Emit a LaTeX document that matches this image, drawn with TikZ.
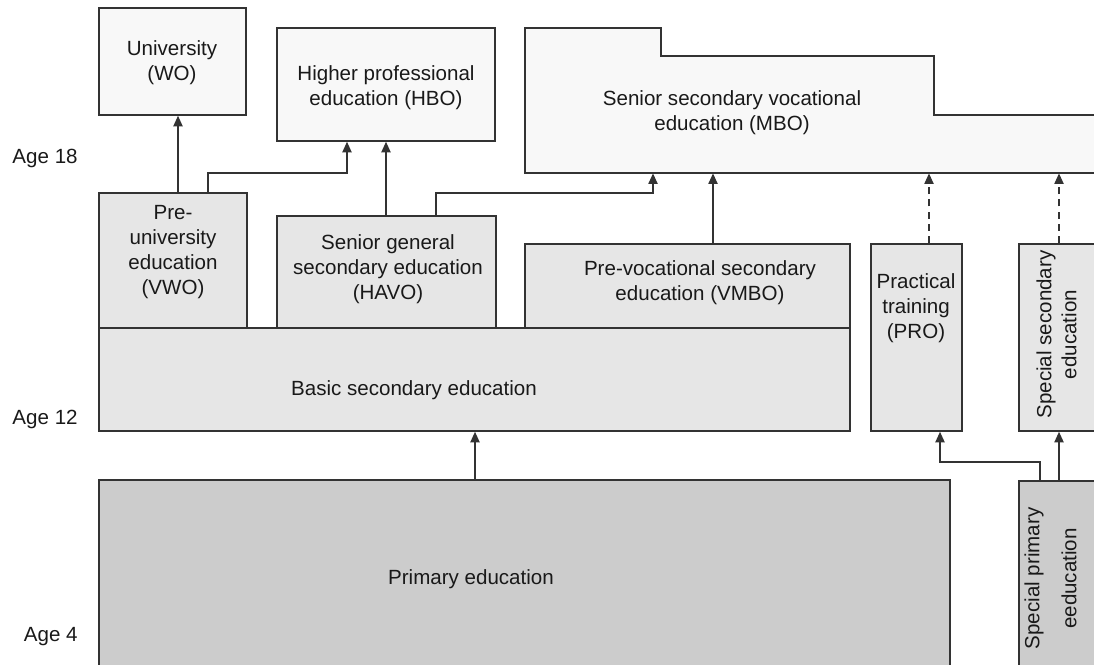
\documentclass[tikz,border=0pt]{standalone}
\usepackage{fontspec}
\setmainfont{Liberation Sans}
\usetikzlibrary{arrows.meta,fit}
\definecolor{linegray}{HTML}{333333}
\definecolor{boxwhite}{HTML}{F8F8F8}
\definecolor{boxlight}{HTML}{E6E6E6}
\definecolor{boxdark}{HTML}{CCCCCC}
\begin{document}
\begin{tikzpicture}[x=0.02cm,y=-0.02cm,
  box/.style={draw=linegray,line width=0.85pt,inner sep=0pt},
  pale/.style={box,fill=boxwhite},
  light/.style={box,fill=boxlight},
  dark/.style={box,fill=boxdark},
  txt/.style={align=center,font=\fontsize{11.7}{14.2}\selectfont,text=black!90,inner sep=0pt,yshift=-1.4pt},
  arr/.style={draw=linegray,line width=0.9pt,-{Triangle[length=6pt,width=5.2pt]}},
  dasharrow/.style={arr,dash pattern=on 4pt off 3pt}]
  %%%%% frame %%%%%
  \useasboundingbox (0,0) rectangle (1094,664);
  \clip (0,0) rectangle (1094,664);

  %%%%% higher education %%%%%
  \node[pale,fit={(99,8) (246,115)}] (wo) {};
  \node[pale,fit={(277,28) (495,141)}] (hbo) {};
  \node[inner sep=0pt,fit={(525,28) (1110,173)}] (mbo) {};
  \draw[pale] (525,28) -| (661,56) -| (934,115) -| (1110,173) -- (525,173) -- cycle;

  %%%%% secondary education %%%%%
  \node[light,fit={(99,193) (247,328)}] (vwo) {};
  \node[light,fit={(277,216) (496,328)}] (havo) {};
  \node[light,fit={(525,244) (850,328)}] (vmbo) {};
  \node[light,fit={(99,328) (850,431)}] (basic) {};
  \node[light,fit={(871,244) (962,431)}] (pro) {};
  \node[light,fit={(1019,244) (1110,431)}] (ssec) {};

  %%%%% primary education %%%%%
  \node[dark,fit={(99,480) (950,680)}] (prim) {};
  \node[dark,fit={(1019,481) (1110,680)}] (sprim) {};

  %%%%% texts %%%%%
  \node[txt] (wo-t) at (172,60) {University\\(WO)};
  \node[txt] (hbo-t) at (386,85) {Higher professional\\education (HBO)};
  \node[txt] (mbo-t) at (732,110) {Senior secondary vocational\\education (MBO)};
  \node[txt] (vwo-t) at (173,250) {Pre-\\university\\education\\(VWO)};
  \node[txt] (havo-t) at (388,267) {Senior general\\secondary education\\(HAVO)};
  \node[txt] (vmbo-t) at (700,280) {Pre-vocational secondary\\education (VMBO)};
  \node[txt] (basic-t) at (414,388) {Basic secondary education};
  \node[txt] (pro-t) at (916,306) {Practical\\training\\(PRO)};
  \node[txt,rotate=90,yshift=1.4pt] (ssec-t) at (1059,332) {Special secondary\\education};
  \node[txt] (prim-t) at (471,577) {Primary education};
  \node[txt,rotate=90,yshift=1.4pt] (sprim-t) at (1053,576) {Special primary\\[6.8pt]eeducation};

  \node[txt,anchor=east] (age18) at (78,156) {Age 18};
  \node[txt,anchor=east] (age12) at (78,417) {Age 12};
  \node[txt,anchor=east] (age4) at (78,634) {Age 4};

  %%%%% connectors %%%%%
  \draw[arr] (178,0 |- vwo.north) -- (178,0 |- wo.south);
  \draw[arr] (208,0 |- vwo.north) |- (347,173) -- (347,0 |- hbo.south);
  \draw[arr] (386,0 |- havo.north) -- (386,0 |- hbo.south);
  \draw[arr] (436,0 |- havo.north) |- (653,193) -- (653,0 |- mbo.south);
  \draw[arr] (713,0 |- vmbo.north) -- (713,0 |- mbo.south);
  \draw[dasharrow] (929,0 |- pro.north) -- (929,0 |- mbo.south);
  \draw[dasharrow] (1059,0 |- ssec.north) -- (1059,0 |- mbo.south);
  \draw[arr] (475,0 |- prim.north) -- (475,0 |- basic.south);
  \draw[arr] (1040,0 |- sprim.north) |- (940,462) -- (940,0 |- pro.south);
  \draw[arr] (1059,0 |- sprim.north) -- (1059,0 |- ssec.south);
\end{tikzpicture}
\end{document}
